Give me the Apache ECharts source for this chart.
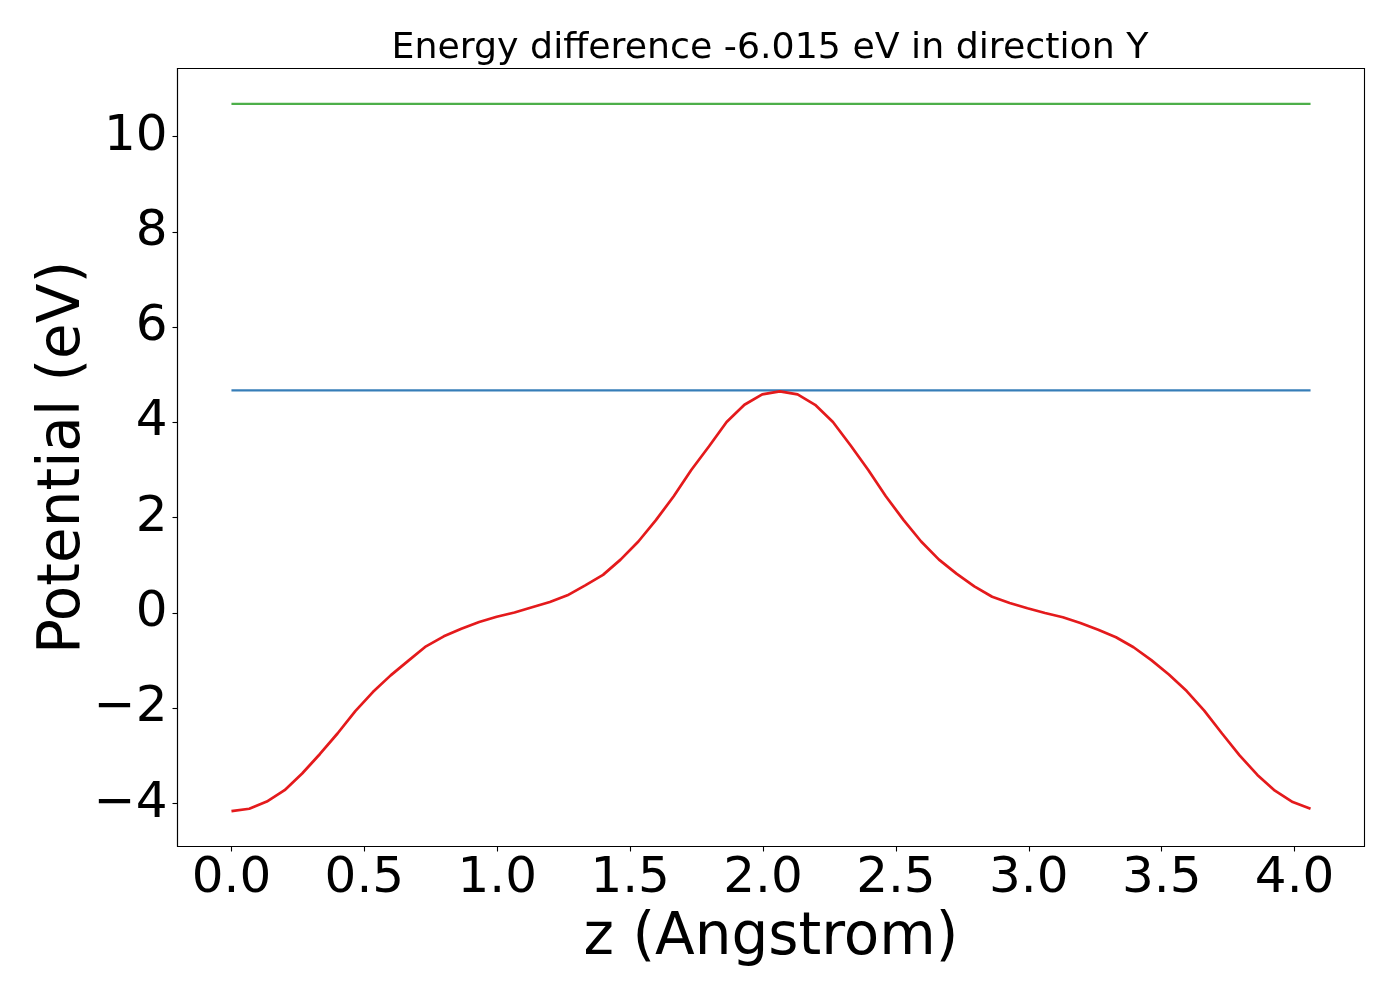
<!DOCTYPE html>
<html><head><meta charset="utf-8">
<script src="https://cdn.jsdelivr.net/npm/echarts@6/dist/echarts.min.js"></script>
<style>html,body{margin:0;padding:0;background:#fff}#c{width:1400px;height:1000px}</style>
</head><body><div id="c"></div>
<script>
// z positions (Angstrom)
const zValues = [0.000,0.067,0.133,0.200,0.266,0.333,0.399,0.466,0.532,0.599,
  0.666,0.732,0.799,0.865,0.932,0.998,1.065,1.131,1.198,1.264,
  1.331,1.398,1.464,1.531,1.597,1.664,1.730,1.797,1.863,1.930,
  1.997,2.063,2.130,2.196,2.263,2.329,2.396,2.462,2.529,2.595,
  2.662,2.729,2.795,2.862,2.928,2.995,3.061,3.128,3.194,3.261,
  3.328,3.394,3.461,3.527,3.594,3.660,3.727,3.793,3.860,3.926,
  3.993,4.060];
// potential (eV)
const potential = [-4.16,-4.11,-3.96,-3.72,-3.37,-2.96,-2.53,-2.06,-1.66,-1.31,
  -1.00,-0.70,-0.49,-0.33,-0.19,-0.08,0.01,0.12,0.23,0.37,
  0.58,0.80,1.12,1.50,1.95,2.45,3.00,3.50,4.01,4.37,
  4.59,4.65,4.59,4.37,4.01,3.52,3.00,2.45,1.95,1.50,
  1.12,0.82,0.56,0.34,0.21,0.10,0.00,-0.09,-0.21,-0.35,
  -0.51,-0.72,-0.99,-1.29,-1.64,-2.05,-2.53,-2.99,-3.40,-3.73,
  -3.97,-4.11];
const upperLevel = 10.687;   // green line
const lowerLevel = 4.672;    // blue line
const xTicks = [0.0,0.5,1.0,1.5,2.0,2.5,3.0,3.5,4.0];
const yTicks = [-4,-2,0,2,4,6,8,10];
const titleText = 'Energy difference -6.015 eV in direction Y';

const FONT = 'DejaVu Sans';
const chart = echarts.init(document.getElementById('c'), null, {renderer: 'canvas'});
const zFirst = zValues[0], zLast = zValues[zValues.length - 1];
const axisLineStyle = {color: '#000', width: 1.1};

chart.setOption({
  animation: false,
  backgroundColor: '#fff',
  title: {
    text: titleText,
    left: 770, top: 31, padding: 0, textAlign: 'center',
    textStyle: {fontFamily: FONT, fontSize: 36.3, fontWeight: 'normal', color: '#000'}
  },
  grid: {
    left: 177.5, right: 35.5, top: 68.5, bottom: 153.5,
    show: true, borderColor: '#000', borderWidth: 1.1, backgroundColor: 'transparent',
    containLabel: false
  },
  xAxis: {
    type: 'value', min: -0.203, max: 4.263,
    name: 'z (Angstrom)', nameLocation: 'middle', nameGap: 63, nameMoveOverlap: false,
    nameTextStyle: {fontFamily: FONT, fontSize: 58, color: '#000'},
    axisLine: {show: true, onZero: false, lineStyle: axisLineStyle},
    axisTick: {show: true, customValues: xTicks, length: 5, inside: false, lineStyle: axisLineStyle},
    axisLabel: {customValues: xTicks, margin: 8, fontFamily: FONT, fontSize: 50, color: '#000',
      formatter: v => v.toFixed(1)},
    splitLine: {show: false}
  },
  yAxis: {
    type: 'value', min: -4.902, max: 11.429,
    name: 'Potential (eV)', nameLocation: 'middle', nameGap: 85, nameMoveOverlap: false,
    nameTextStyle: {fontFamily: FONT, fontSize: 58, color: '#000'},
    axisLine: {show: true, onZero: false, lineStyle: axisLineStyle},
    axisTick: {show: true, customValues: yTicks, length: 5, inside: false, lineStyle: axisLineStyle},
    axisLabel: {customValues: yTicks, margin: 10, fontFamily: FONT, fontSize: 50, color: '#000',
      formatter: v => String(v).replace('-', '\u2212')},
    splitLine: {show: false}
  },
  series: [
    {type: 'line', data: [[zFirst, upperLevel], [zLast, upperLevel]], symbol: 'none',
      lineStyle: {color: '#4daf4a', width: 2.1}, z: 2},
    {type: 'line', data: [[zFirst, lowerLevel], [zLast, lowerLevel]], symbol: 'none',
      lineStyle: {color: '#377eb8', width: 2.1}, z: 2},
    {type: 'line', data: zValues.map((z, i) => [z, potential[i]]), symbol: 'none',
      lineStyle: {color: '#e41a1c', width: 2.7}, z: 3}
  ]
});
</script>
</body></html>
